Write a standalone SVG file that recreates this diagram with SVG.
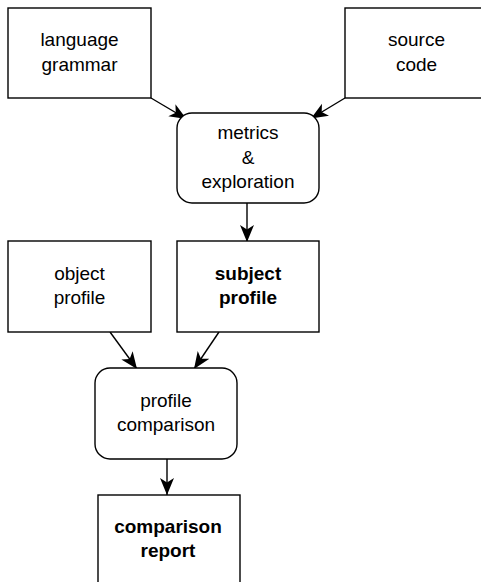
<svg xmlns="http://www.w3.org/2000/svg" width="481" height="582" viewBox="0 0 481 582">
<style>
.box{fill:#fff;stroke:#000;stroke-width:1.4}
.t{font-family:"Liberation Sans",Arial,sans-serif;font-size:19px;text-anchor:middle;fill:#000}
.b{font-weight:bold}
.edge{stroke:#000;stroke-width:1.4;fill:none;marker-end:url(#arr)}
</style>
<defs>
<marker id="arr" markerUnits="userSpaceOnUse" markerWidth="18" markerHeight="15" refX="17" refY="7" orient="auto">
<path d="M0,0 L17,7 L0,14 L4.5,7 z" fill="#000"/>
</marker>
</defs>
<rect width="481" height="582" fill="#fff"/>
<g id="edges">
<line class="edge" x1="151" y1="98" x2="186.5" y2="119"/>
<line class="edge" x1="345" y1="98" x2="311" y2="118.5"/>
<line class="edge" x1="247" y1="203" x2="247" y2="242"/>
<line class="edge" x1="110" y1="332" x2="137" y2="369"/>
<line class="edge" x1="219" y1="332" x2="194" y2="369"/>
<line class="edge" x1="167" y1="459" x2="167" y2="495"/>
</g>
<g id="language_grammar">
<rect class="box" x="8" y="8" width="143" height="90"/>
<text class="t" x="79.5" y="46">language</text>
<text class="t" x="79.5" y="71">grammar</text>
</g>
<g id="source_code">
<rect class="box" x="345" y="8" width="143" height="90"/>
<text class="t" x="416.5" y="46">source</text>
<text class="t" x="416.5" y="71">code</text>
</g>
<g id="metrics">
<rect class="box" x="177" y="113" width="142" height="90" rx="15" ry="15"/>
<text class="t" x="248" y="139">metrics</text>
<text class="t" x="248" y="163.5">&amp;</text>
<text class="t" x="248" y="188">exploration</text>
</g>
<g id="object_profile">
<rect class="box" x="8" y="241" width="143" height="91"/>
<text class="t" x="79.5" y="280">object</text>
<text class="t" x="79.5" y="304">profile</text>
</g>
<g id="subject_profile">
<rect class="box" x="177" y="241" width="142" height="91"/>
<text class="t b" x="248" y="280">subject</text>
<text class="t b" x="248" y="304">profile</text>
</g>
<g id="profile_comparison">
<rect class="box" x="95" y="368" width="142" height="91" rx="15" ry="15"/>
<text class="t" x="166" y="407">profile</text>
<text class="t" x="166" y="431">comparison</text>
</g>
<g id="comparison_report">
<rect class="box" x="98" y="495" width="142" height="95"/>
<text class="t b" x="168" y="533">comparison</text>
<text class="t b" x="168" y="557">report</text>
</g>
</svg>
